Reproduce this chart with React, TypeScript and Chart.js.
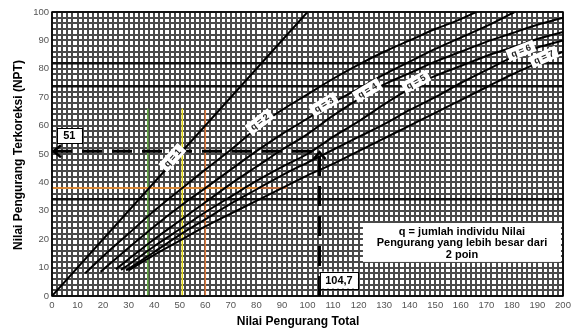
import { useEffect, useRef } from 'react';
import { Chart, registerables } from 'chart.js';

Chart.register(...registerables);

// ---- data ----
const xTickValues = [0, 10, 20, 30, 40, 50, 60, 70, 80, 90, 100, 110, 120, 130, 140, 150, 160, 170, 180, 190, 200];
const yTickValues = [0, 10, 20, 30, 40, 50, 60, 70, 80, 90, 100];

const q1X = [0, 100];
const q1Y = [0, 100];
const q2X = [13, 20, 30, 40, 51, 60, 70, 82, 90, 100, 110, 120, 130, 140, 150, 160, 166];
const q2Y = [8, 14, 22, 30, 38, 44.5, 51.5, 60.5, 65.5, 71, 76.5, 81.5, 86, 90, 94, 97.5, 100];
const q3X = [19, 30, 40, 50, 60, 70, 80, 90, 100, 107, 120, 130, 140, 150, 160, 170, 181];
const q3Y = [8.5, 17, 24.5, 31.5, 38, 44.5, 51, 57, 62.5, 66.5, 73, 78, 82.5, 87, 91, 95, 100];
const q4X = [25, 30, 40, 50, 60, 70, 80, 90, 100, 110, 124, 130, 140, 150, 160, 170, 180, 190, 200];
const q4Y = [9.4, 13, 20, 26.5, 33, 39.5, 45.5, 51.5, 57, 63.5, 71.5, 74.5, 78.5, 82.5, 86, 89.5, 92.5, 95.5, 98];
const q5X = [27, 30, 40, 50, 60, 70, 80, 90, 100, 110, 120, 130, 143, 150, 160, 170, 180, 190, 200];
const q5Y = [9.2, 11, 17.5, 23.5, 29.5, 35, 40.5, 45.5, 50, 56, 61.5, 67.5, 74.5, 77.5, 81, 84.5, 87.5, 90.5, 93];
const q6X = [29, 40, 50, 60, 70, 80, 90, 100, 110, 120, 130, 140, 150, 160, 170, 180, 190, 200];
const q6Y = [9, 15.5, 21.5, 27, 32.5, 37.5, 42.5, 47, 51.5, 56, 60.5, 65.5, 70, 75, 79.5, 84, 87.5, 90];
const q7X = [30, 40, 50, 60, 70, 80, 90, 100, 110, 120, 130, 140, 150, 160, 170, 180, 190, 200];
const q7Y = [9, 14.5, 19.5, 24.5, 29, 33.5, 38, 42.5, 46.5, 51, 55.5, 60, 64.5, 69, 73.5, 78, 82, 86];

const curveNames = ['q = 1', 'q = 2', 'q = 3', 'q = 4', 'q = 5', 'q = 6', 'q = 7'];
const curveXs = [q1X, q2X, q3X, q4X, q5X, q6X, q7X];
const curveYs = [q1Y, q2Y, q3Y, q4Y, q5Y, q6Y, q7Y];
const labelAtX = [48, 82, 107, 124, 143, 184, 193];

// worked example
const exampleTotal = 104.7;
const exampleNPT = 51;
const exampleTotalText = '104,7';
const exampleNPTText = '51';

// coloured reading guides
const guideLevel = 38;
const guideTop = 66;
const greenX = 37.5;
const yellowX = 51;
const orangeX = 60;
const yellowEnd = 81;
const orangeEnd = 92;

const legendLines = ['q = jumlah individu Nilai', 'Pengurang yang lebih besar dari', '2 poin'];
const xTitle = 'Nilai Pengurang Total';
const yTitle = 'Nilai Pengurang Terkoreksi (NPT)';
const darkRows = [34, 74, 82];

const FONT = "Arial, 'Liberation Sans', sans-serif";

function interp(xs: number[], ys: number[], v: number) {
  if (v <= xs[0]) return ys[0];
  for (let i = 1; i < xs.length; i++) {
    if (v <= xs[i]) {
      const t = (v - xs[i - 1]) / (xs[i] - xs[i - 1]);
      return ys[i - 1] + t * (ys[i] - ys[i - 1]);
    }
  }
  return ys[ys.length - 1];
}

const pts = (xs: number[], ys: number[]) => xs.map((x, i) => ({ x, y: ys[i] }));

const overlay = {
  id: 'overlay',
  afterDatasetsDraw(chart: any) {
    const { ctx, scales } = chart;
    const sx = scales.x;
    const sy = scales.y;
    ctx.save();
    ctx.setLineDash([]);
    // arrowheads
    ctx.strokeStyle = '#000';
    ctx.lineWidth = 2.5;
    const ax = sx.getPixelForValue(0);
    const ay = sy.getPixelForValue(exampleNPT);
    ctx.beginPath();
    ctx.moveTo(ax + 9, ay - 6);
    ctx.lineTo(ax + 1.5, ay);
    ctx.lineTo(ax + 9, ay + 6);
    ctx.stroke();
    const bx = sx.getPixelForValue(exampleTotal);
    ctx.beginPath();
    ctx.moveTo(bx - 6, ay + 8);
    ctx.lineTo(bx, ay + 1);
    ctx.lineTo(bx + 6, ay + 8);
    ctx.stroke();

    // curve labels
    ctx.font = `bold 9px ${FONT}`;
    ctx.textAlign = 'center';
    ctx.textBaseline = 'middle';
    curveNames.forEach((name, i) => {
      const xs = curveXs[i];
      const ys = curveYs[i];
      const lx = labelAtX[i];
      const p0x = sx.getPixelForValue(lx - 3);
      const p0y = sy.getPixelForValue(interp(xs, ys, lx - 3));
      const p1x = sx.getPixelForValue(lx + 3);
      const p1y = sy.getPixelForValue(interp(xs, ys, lx + 3));
      const ang = Math.atan2(p1y - p0y, p1x - p0x);
      const cx = sx.getPixelForValue(lx);
      const cy = sy.getPixelForValue(interp(xs, ys, lx));
      const off = 3;
      ctx.save();
      ctx.translate(cx + Math.sin(ang) * off, cy - Math.cos(ang) * off);
      ctx.rotate(ang);
      const w = ctx.measureText(name).width + 8;
      ctx.fillStyle = '#fff';
      ctx.fillRect(-w / 2, -6, w, 12);
      ctx.fillStyle = '#222';
      ctx.fillText(name, 0, 0.5);
      ctx.restore();
    });

    // value boxes
    const box = (text: string, cx: number, cy: number, w: number, h: number) => {
      ctx.fillStyle = '#fff';
      ctx.fillRect(cx - w / 2, cy - h / 2, w, h);
      ctx.strokeStyle = '#000';
      ctx.lineWidth = 1;
      ctx.strokeRect(Math.round(cx - w / 2) + 0.5, Math.round(cy - h / 2) + 0.5, w, h);
      ctx.fillStyle = '#000';
      ctx.font = `bold 11px ${FONT}`;
      ctx.textAlign = 'center';
      ctx.textBaseline = 'middle';
      ctx.fillText(text, cx, cy + 0.5);
    };
    box(exampleNPTText, sx.getPixelForValue(6.8), sy.getPixelForValue(56.5), 25, 15);
    box(exampleTotalText, sx.getPixelForValue(112.3), sy.getPixelForValue(5.6), 38, 17);

    // legend note
    const lx0 = sx.getPixelForValue(121.7);
    const lx1 = sx.getPixelForValue(199.2);
    const ly0 = sy.getPixelForValue(25.7);
    const ly1 = sy.getPixelForValue(12);
    ctx.fillStyle = '#fff';
    ctx.fillRect(lx0, ly0, lx1 - lx0, ly1 - ly0);
    ctx.fillStyle = '#000';
    ctx.font = `bold 11px ${FONT}`;
    const mid = (lx0 + lx1) / 2;
    legendLines.forEach((t, i) => ctx.fillText(t, mid, ly0 + 8.5 + i * 11.5));
    ctx.restore();
  },
  afterDraw(chart: any) {
    const { ctx, chartArea } = chart;
    ctx.save();
    ctx.strokeStyle = '#000';
    ctx.lineWidth = 1.5;
    ctx.strokeRect(chartArea.left, chartArea.top, chartArea.right - chartArea.left, chartArea.bottom - chartArea.top);
    ctx.fillStyle = '#000';
    ctx.font = `bold 12px ${FONT}`;
    ctx.textAlign = 'center';
    ctx.textBaseline = 'middle';
    ctx.fillText(xTitle, 298, 322);
    ctx.translate(19, 155);
    ctx.rotate(-Math.PI / 2);
    ctx.fillText(yTitle, 0, 0);
    ctx.restore();
  },
};

export default function App() {
  const ref = useRef<HTMLCanvasElement>(null);
  useEffect(() => {
    document.body.style.margin = '0';
    const curveSets = curveNames.map((n, i) => ({
      label: n,
      data: pts(curveXs[i], curveYs[i]),
      showLine: true,
      borderColor: '#000',
      borderWidth: 2,
      pointRadius: 0,
      cubicInterpolationMode: 'monotone' as const,
      order: 2,
    }));
    const guide = (data: any[], color: string) => ({
      label: 'guide',
      data,
      showLine: true,
      borderColor: color,
      borderWidth: 1.5,
      pointRadius: 0,
      order: 3,
    });
    const dashed = (data: any[]) => ({
      label: 'example',
      data,
      showLine: true,
      borderColor: '#000',
      borderWidth: 3,
      borderDash: [20, 10],
      pointRadius: 0,
      order: 1,
    });
    const chart = new Chart(ref.current!, {
      type: 'scatter',
      data: {
        datasets: [
          dashed([{ x: 0, y: exampleNPT }, { x: exampleTotal, y: exampleNPT }]),
          dashed([{ x: exampleTotal, y: 0 }, { x: exampleTotal, y: exampleNPT }]),
          ...curveSets,
          guide([{ x: 0, y: guideLevel }, { x: orangeEnd, y: guideLevel }], '#e47b3c'),
          guide([{ x: 0, y: guideLevel }, { x: yellowEnd, y: guideLevel }], '#d9d21e'),
          guide([{ x: greenX, y: 0 }, { x: greenX, y: guideTop }], '#5fa83c'),
          guide([{ x: yellowX, y: 0 }, { x: yellowX, y: guideTop }], '#e2d81a'),
          guide([{ x: orangeX, y: 0 }, { x: orangeX, y: guideTop - 0.5 }], '#e47b3c'),
        ],
      },
      options: {
        animation: false,
        responsive: false,
        devicePixelRatio: 1,
        layout: { padding: { top: 12, right: 13, left: 0, bottom: 0 } },
        plugins: { legend: { display: false }, tooltip: { enabled: false } },
        scales: {
          x: {
            type: 'linear',
            min: xTickValues[0],
            max: xTickValues[xTickValues.length - 1],
            afterFit: (s: any) => { s.height = 36; },
            afterBuildTicks: (s: any) => {
              const t = [];
              for (let v = s.min; v <= s.max + 1e-6; v += 2) t.push({ value: v });
              s.ticks = t;
            },
            ticks: {
              autoSkip: false,
              maxRotation: 0,
              padding: 4,
              color: '#555',
              font: { size: 9.5, family: FONT },
              callback: (v: any) => (xTickValues.includes(v) ? String(v) : ''),
            },
            grid: { color: '#4a4a4a', lineWidth: 2, drawTicks: false },
            border: { display: false },
          },
          y: {
            type: 'linear',
            min: yTickValues[0],
            max: yTickValues[yTickValues.length - 1],
            afterFit: (s: any) => { s.width = 52; },
            afterBuildTicks: (s: any) => {
              const t = [];
              for (let v = s.min; v <= s.max + 1e-6; v += 2) t.push({ value: v });
              s.ticks = t;
            },
            ticks: {
              autoSkip: false,
              padding: 3,
              color: '#555',
              font: { size: 9.5, family: FONT },
              callback: (v: any) => (yTickValues.includes(v) ? String(v) : ''),
            },
            grid: {
              color: (c: any) => (darkRows.includes(c.tick?.value) ? '#111' : '#4a4a4a'),
              lineWidth: (c: any) => (darkRows.includes(c.tick?.value) ? 2.4 : 2),
              drawTicks: false,
            },
            border: { display: false },
          },
        },
      },
      plugins: [overlay],
    });
    return () => chart.destroy();
  }, []);
  return (
    <div style={{ width: 576, height: 332, background: '#fff' }}>
      <canvas ref={ref} width={576} height={332} />
    </div>
  );
}
